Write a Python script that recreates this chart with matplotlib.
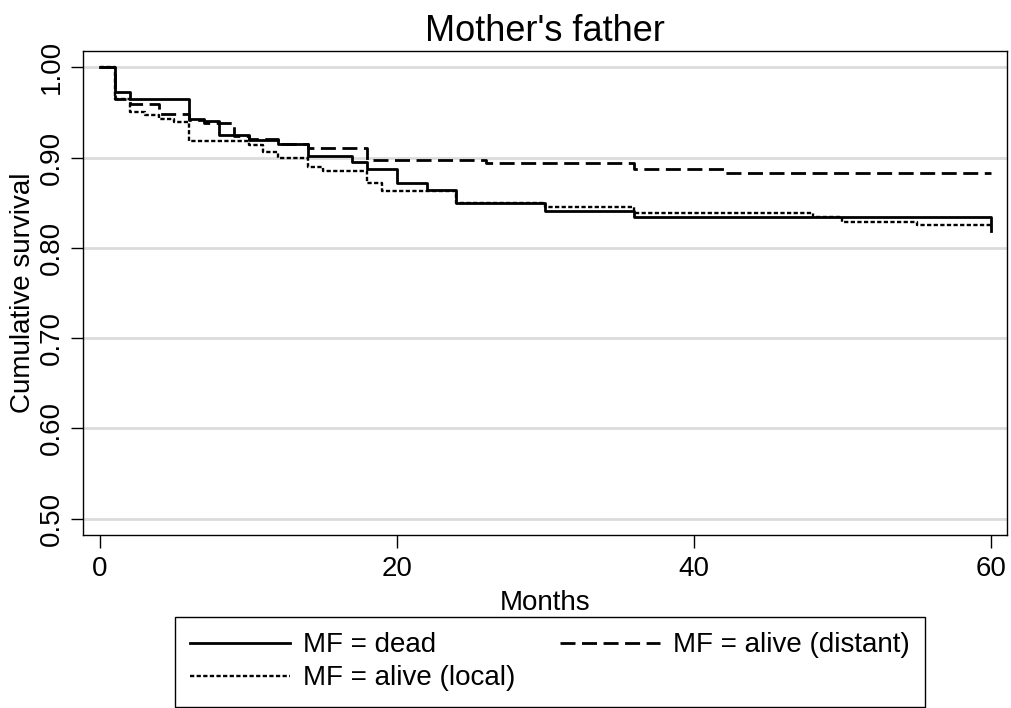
"""Kaplan-Meier style survival curves by mother's father status."""
import matplotlib

matplotlib.use("Agg")
import matplotlib.pyplot as plt  # noqa: E402

plt.rcParams["font.family"] = ["Liberation Sans", "DejaVu Sans"]

# step curves (time in months, survival after the step)
DEAD_T = [0, 1, 2, 6, 7, 8, 10, 12, 14, 17, 18, 20, 22, 24, 30, 36, 60]
DEAD_S = [1.0, 0.9726, 0.965, 0.943, 0.940, 0.925, 0.919, 0.915, 0.902, 0.895,
          0.8874, 0.872, 0.864, 0.8497, 0.841, 0.8337, 0.819]

DIST_T = [0, 1, 2, 4, 6, 7, 9, 10, 12, 14, 18, 26, 36, 42, 60]
DIST_S = [1.0, 0.965, 0.9596, 0.9485, 0.942, 0.938, 0.924, 0.920, 0.915, 0.911,
          0.8974, 0.8937, 0.8874, 0.883, 0.883]

LOCAL_T = [0, 1, 2, 3, 4, 5, 6, 10, 11, 12, 14, 15, 18, 19, 24, 30, 36, 48, 50, 55, 60]
LOCAL_S = [1.0, 0.965, 0.950, 0.947, 0.943, 0.939, 0.918, 0.914, 0.906, 0.900,
           0.889, 0.8856, 0.8715, 0.8626, 0.8497, 0.845, 0.8385, 0.834, 0.829,
           0.8256, 0.8256]

LABELS = ["MF = dead", "MF = alive (distant)", "MF = alive (local)"]
Y_TICKS = [0.50, 0.60, 0.70, 0.80, 0.90, 1.00]
X_TICKS = [0, 20, 40, 60]


def main() -> None:
    fig = plt.figure(figsize=(10.11, 7.08), dpi=100)
    ax = fig.add_axes([0.0821, 0.2444, 0.914, 0.6836])

    lw = 2.0
    h_dead, = ax.step(DEAD_T, DEAD_S, where="post", color="black", lw=lw,
                      label=LABELS[0])
    h_dist, = ax.step(DIST_T, DIST_S, where="post", color="black", lw=lw,
                      linestyle=(0, (5.4, 2.35)), label=LABELS[1])
    h_loc, = ax.step(LOCAL_T, LOCAL_S, where="post", color="black", lw=lw - 0.3,
                     linestyle=(0, (1.8, 1.0)), label=LABELS[2])

    ax.set_xlim(-1.15, 61.1); ax.set_ylim(0.482, 1.018)
    ax.set_yticks(Y_TICKS)
    ax.set_yticklabels([f"{v:.2f}" for v in Y_TICKS], rotation=90, va="center")
    ax.set_xticks(X_TICKS)
    ax.tick_params(labelsize=20, length=9, width=1, color="black", pad=4)
    ax.tick_params(axis="x", pad=6)
    ax.grid(axis="y", color="#dcdcdc", lw=2)
    ax.set_axisbelow(True)
    for s in ax.spines.values():
        s.set_linewidth(1.0)

    ax.set_xlabel("Months", fontsize=20, labelpad=6)
    ax.set_ylabel("Cumulative survival", fontsize=20, labelpad=2)
    ax.set_title("Mother's father", fontsize=26, pad=7)

    # reorder so the legend fills row-wise: dead | distant / local
    leg = fig.legend([h_dead, h_loc, h_dist], [LABELS[0], LABELS[2], LABELS[1]],
                     ncol=2, loc="upper center", bbox_to_anchor=(0.544, 0.1285),
                     fontsize=20, handlelength=3.6, handletextpad=0.47,
                     columnspacing=1.6, labelspacing=0.25, borderpad=0.55,
                     borderaxespad=0, fancybox=False, edgecolor="black",
                     framealpha=1)
    leg.get_frame().set_linewidth(1.0)

    fig.savefig("out.png", dpi=100)
    plt.close(fig)


if __name__ == "__main__":
    main()
